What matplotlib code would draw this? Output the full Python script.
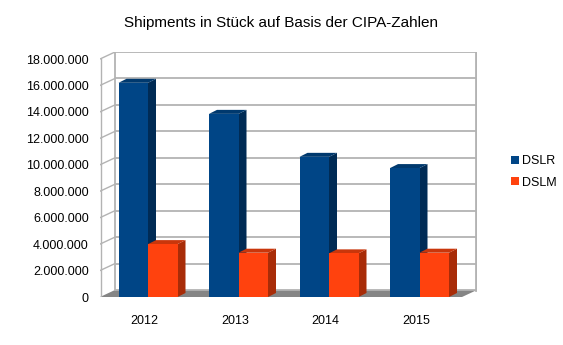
import matplotlib
matplotlib.use("Agg")
import matplotlib.pyplot as plt
from matplotlib.patches import Polygon, Patch

years = ["2012", "2013", "2014", "2015"]
dslr = [16.2e6, 13.85e6, 10.6e6, 9.75e6]
dslm = [4.0e6, 3.35e6, 3.3e6, 3.35e6]
yticks = list(range(0, 18_000_001, 2_000_000))

plt.rcParams["font.family"] = ["Liberation Sans", "DejaVu Sans"]

W, H = 563, 345
fig = plt.figure(figsize=(W / 100, H / 100), dpi=100)

# axes box in pixels: x 100..477, y 297 (zero) .. 52 (top of back wall)
px_left, px_right, px_bottom, px_top = 100, 477, 297, 52
ax = fig.add_axes([px_left / W, 1 - px_bottom / H,
                   (px_right - px_left) / W, (px_bottom - px_top) / H])

unit_px = 90.5                     # pixels per category
val_px = 238 / 18e6                # pixels per shipment unit
x0 = -48 / unit_px
x1 = x0 + (px_right - px_left) / unit_px
ax.set_xlim(x0, x1)
ax.set_ylim(0, (px_bottom - px_top) / val_px)

# wall depth
wdx = 15 / unit_px
wdy = 7 / val_px
grid_c = "#b3b3b3"

# floor
ax.add_patch(Polygon([(x0, 0), (x1 - wdx, 0), (x1, wdy), (x0 + wdx, wdy)],
                     closed=True, facecolor="#858585", edgecolor="none", zorder=1))

# grid on back wall and left wall
for v in yticks:
    ax.plot([x0 + wdx, x1], [v + wdy, v + wdy], color=grid_c, lw=1.3, zorder=1,
            solid_capstyle="butt")
    if v > 0:
        ax.plot([x0, x0 + wdx], [v, v + wdy], color=grid_c, lw=1.0, zorder=1)
ax.plot([x0 + 0.01, x0 + 0.01], [0, yticks[-1]], color=grid_c, lw=1.0, zorder=1)
ax.plot([x0 + wdx, x0 + wdx], [wdy, yticks[-1] + wdy], color=grid_c, lw=1.3, zorder=1)
ax.plot([x1 - 0.01, x1 - 0.01], [wdy, yticks[-1] + wdy], color=grid_c, lw=2.0, zorder=1)

# bars with a little 3D depth
bw = 29.5 / unit_px
bdx = 8 / unit_px
bdy = 4 / val_px
series = [
    (dslr, -bw / 2, "#004586", "#002b55", "#00396e", "DSLR"),
    (dslm, bw / 2, "#ff420e", "#a82c08", "#c9360b", "DSLM"),
]
handles = []
z = 3
for vals, off, front, side, top, name in series:
    xs = [i + off for i in range(len(years))]
    bars = ax.bar(xs, vals, width=bw, color=front, zorder=z + 1)
    for r in bars:
        bx, bh, wid = r.get_x(), r.get_height(), r.get_width()
        ax.add_patch(Polygon([(bx + wid, 0), (bx + wid + bdx, bdy),
                              (bx + wid + bdx, bh + bdy), (bx + wid, bh)],
                             closed=True, facecolor=side, edgecolor="none", zorder=z))
        ax.add_patch(Polygon([(bx, bh), (bx + wid, bh), (bx + wid + bdx, bh + bdy),
                              (bx + bdx, bh + bdy)],
                             closed=True, facecolor=top, edgecolor="none", zorder=z))
    handles.append(Patch(facecolor=front, label=name))
    z += 2

for s in ax.spines.values():
    s.set_visible(False)
ax.set_yticks(yticks)
ax.set_yticklabels([f"{v:,}".replace(",", ".") for v in yticks], fontsize=9)
ax.set_xticks([i - 0.04 for i in range(len(years))])
ax.set_xticklabels(years, fontsize=9)
ax.tick_params(axis="y", length=0, pad=8)
ax.tick_params(axis="x", length=0, pad=13)

fig.text(281 / W, 1 - 23 / H, "Shipments in Stück auf Basis der CIPA-Zahlen",
         ha="center", va="center", fontsize=11)

fig.legend(handles=handles, loc="center left",
           bbox_to_anchor=(506 / W, 1 - 172 / H), frameon=False, fontsize=9,
           handlelength=0.65, handleheight=0.65, handletextpad=0.25,
           labelspacing=0.75, borderaxespad=0)

fig.savefig("out.png", dpi=100)
